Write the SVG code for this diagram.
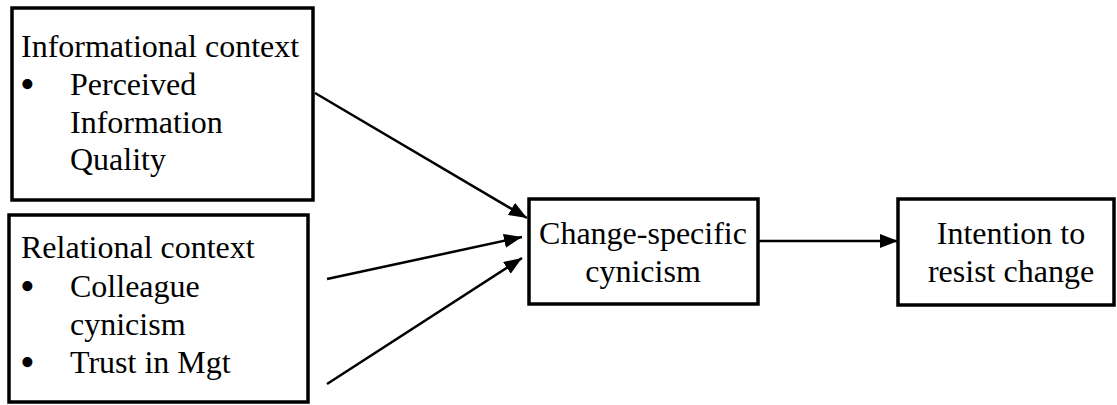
<svg xmlns="http://www.w3.org/2000/svg" width="1117" height="405" viewBox="0 0 1117 405">
<style>
.box{fill:#fff;stroke:#000;stroke-width:3.5}
.t{font-family:"Liberation Serif","Times New Roman",serif;font-size:32px;fill:#000}
.b{font-family:"Liberation Serif","Times New Roman",serif;font-size:42px;fill:#000}
.c{text-anchor:middle}
.con{stroke:#000;stroke-width:2.5;fill:none;marker-end:url(#ah)}
</style>
<defs>
<marker id="ah" markerUnits="userSpaceOnUse" markerWidth="20" markerHeight="16" refX="18" refY="7" orient="auto">
<path d="M0,0 L18,7 L0,14 z" fill="#000"/>
</marker>
</defs>
<rect width="1117" height="405" fill="#fff"/>
<g id="informational">
<rect class="box" x="12" y="8" width="301" height="192"/>
<text class="t" x="21" y="57">Informational context</text>
<text class="b" x="20" y="98">•</text>
<text class="t" x="70" y="95">Perceived</text>
<text class="t" x="70" y="133">Information</text>
<text class="t" x="70" y="170">Quality</text>
</g>
<g id="relational">
<rect class="box" x="9" y="215" width="299" height="187"/>
<text class="t" x="21" y="258">Relational context</text>
<text class="b" x="20" y="300">•</text>
<text class="t" x="70" y="297">Colleague</text>
<text class="t" x="70" y="335">cynicism</text>
<text class="b" x="20" y="376">•</text>
<text class="t" x="70" y="373">Trust in Mgt</text>
</g>
<g id="cynicism">
<rect class="box" x="529" y="199" width="229" height="105"/>
<text class="t c" x="643" y="244">Change-specific</text>
<text class="t c" x="643" y="282">cynicism</text>
</g>
<g id="intention">
<rect class="box" x="898" y="199" width="216" height="106"/>
<text class="t c" x="1011" y="244">Intention to</text>
<text class="t c" x="1011" y="282">resist change</text>
</g>
<g id="connectors">
<line class="con" x1="315" y1="93" x2="527" y2="218"/>
<line class="con" x1="327" y1="279" x2="522" y2="237"/>
<line class="con" x1="327" y1="384" x2="522" y2="258"/>
<line class="con" x1="758" y1="241" x2="898" y2="241"/>
</g>
</svg>
